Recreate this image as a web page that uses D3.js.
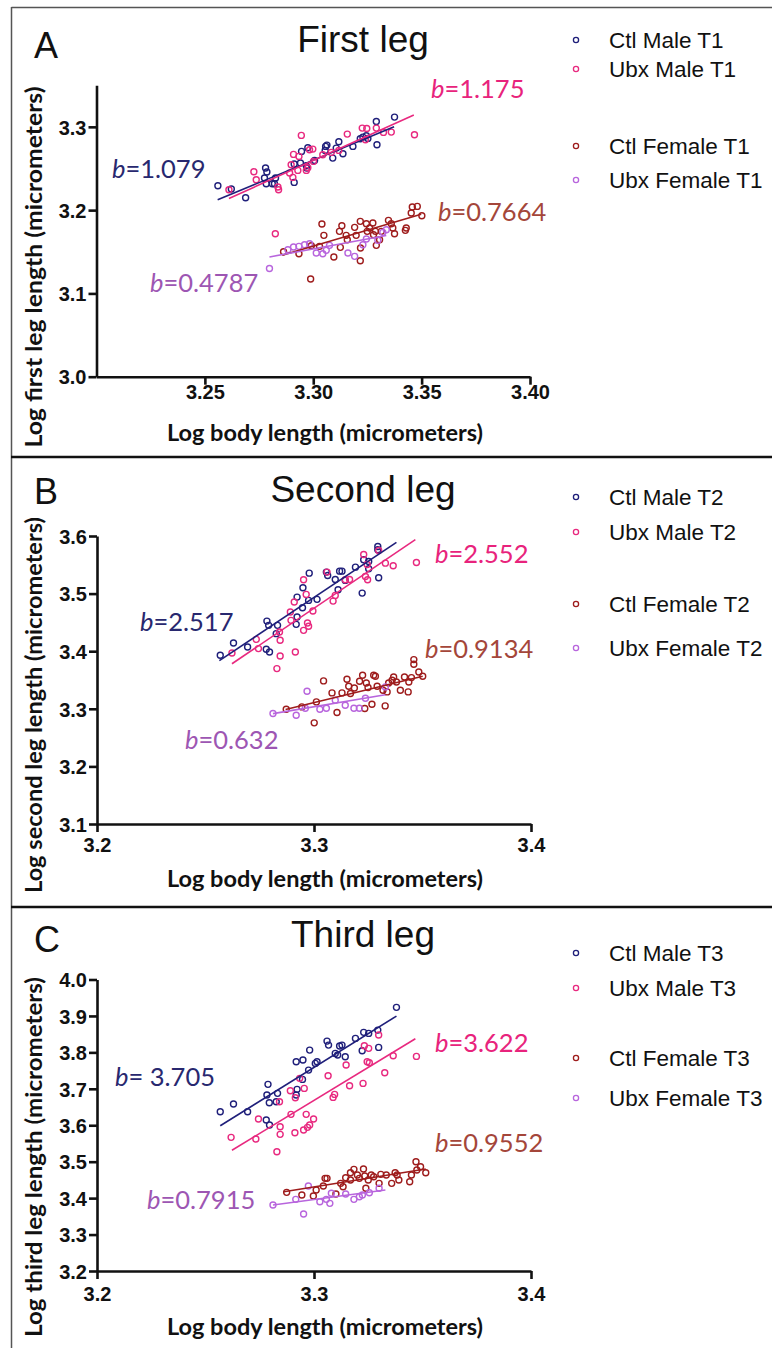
<!DOCTYPE html>
<html><head><meta charset="utf-8">
<script src="https://cdn.jsdelivr.net/npm/d3@7"></script>
<style>html,body{margin:0;padding:0;background:#fff;} svg{display:block;}</style>
</head><body>
<svg id="chart" width="772" height="1348"></svg>
<script>
// ---------------- DATA (log10 values) ----------------
const ctlMaleT1 = [[3.2560,3.2293],[3.2622,3.2253],[3.2688,3.2149],[3.2780,3.2505],[3.2786,3.2457],[3.2775,3.2385],[3.2783,3.2317],[3.2811,3.2317],[3.2826,3.2385],[3.2821,3.2317],[3.2912,3.2333],[3.2912,3.2553],[3.2941,3.2565],[3.2946,3.2705],[3.2975,3.2749],[3.2968,3.2533],[3.2971,3.2505],[3.3006,3.2597],[3.3057,3.2765],[3.3063,3.2781],[3.3055,3.2717],[3.3090,3.2625],[3.3106,3.2745],[3.3118,3.2821],[3.3137,3.2677],[3.3183,3.2765],[3.3217,3.2857],[3.3229,3.2877],[3.3245,3.2893],[3.3252,3.2861],[3.3291,3.3065],[3.3375,3.3117],[3.3294,3.2785]];
const ubxMaleT1 = [[3.2611,3.2245],[3.2726,3.2461],[3.2737,3.2365],[3.2837,3.2277],[3.2840,3.2245],[3.2909,3.2669],[3.2898,3.2545],[3.2891,3.2445],[3.2906,3.2393],[3.2929,3.2477],[3.2945,3.2897],[3.2934,3.2645],[3.2983,3.2725],[3.2968,3.2477],[3.2975,3.2509],[3.2998,3.2733],[3.3001,3.2585],[3.3044,3.2665],[3.3083,3.2693],[3.3118,3.2717],[3.3157,3.2913],[3.3226,3.2985],[3.3247,3.2981],[3.3241,3.2845],[3.3291,3.2985],[3.3324,3.2933],[3.3360,3.2937],[3.3467,3.2905],[3.2825,3.1717]];
const ctlFemaleT1 = [[3.2863,3.1501],[3.2934,3.1477],[3.2991,3.1573],[3.3029,3.1565],[3.3040,3.1833],[3.3049,3.1697],[3.3095,3.1437],[3.3125,3.1553],[3.3132,3.1813],[3.3121,3.1745],[3.3152,3.1697],[3.3157,3.1645],[3.3191,3.1793],[3.3198,3.1697],[3.3217,3.1865],[3.3218,3.1545],[3.3245,3.1837],[3.3249,3.1745],[3.3260,3.1785],[3.3275,3.1845],[3.3278,3.1705],[3.3287,3.1745],[3.3291,3.1577],[3.3306,3.1645],[3.3314,3.1745],[3.3347,3.1877],[3.3360,3.1837],[3.3367,3.1785],[3.3375,3.1717],[3.3425,3.1757],[3.3429,3.1785],[3.3452,3.1965],[3.3457,3.2037],[3.3480,3.2045],[3.3501,3.1933],[3.3217,3.1393],[3.2988,3.1173]];
const ubxFemaleT1 = [[3.2798,3.1300],[3.2883,3.1525],[3.2909,3.1557],[3.2934,3.1565],[3.2960,3.1585],[3.2983,3.1597],[3.3014,3.1485],[3.3044,3.1477],[3.3060,3.1517],[3.3075,3.1577],[3.3160,3.1485],[3.3191,3.1445],[3.3229,3.1585],[3.3245,3.1653],[3.3298,3.1637],[3.3321,3.1733],[3.3337,3.1765]];

const ctlMaleT2 = [[3.2568,3.3929],[3.2629,3.4142],[3.2694,3.4073],[3.2780,3.4033],[3.2795,3.3986],[3.2783,3.4523],[3.2791,3.4449],[3.2826,3.4305],[3.2832,3.4449],[3.2918,3.4466],[3.2922,3.4593],[3.2922,3.4939],[3.2949,3.5102],[3.2947,3.4755],[3.2978,3.5355],[3.2975,3.4882],[3.3014,3.4900],[3.3057,3.5373],[3.3063,3.5315],[3.3098,3.5246],[3.3111,3.5067],[3.3118,3.5390],[3.3129,3.5390],[3.3144,3.5229],[3.3191,3.5459],[3.3222,3.5009],[3.3229,3.5588],[3.3252,3.5432],[3.3252,3.5558],[3.3294,3.5818],[3.3298,3.5276],[3.3294,3.5761]];
const ubxMaleT2 = [[3.2622,3.3969],[3.2734,3.4206],[3.2744,3.4045],[3.2829,3.3698],[3.2844,3.3917],[3.2844,3.4189],[3.2841,3.4333],[3.2891,3.4680],[3.2894,3.4536],[3.2909,3.4853],[3.2914,3.3986],[3.2952,3.4362],[3.2952,3.5241],[3.2964,3.4986],[3.2970,3.4489],[3.2975,3.4432],[3.2995,3.4697],[3.3060,3.5373],[3.3088,3.4870],[3.3098,3.4969],[3.3144,3.5241],[3.3164,3.5246],[3.3229,3.5679],[3.3237,3.5298],[3.3247,3.5241],[3.3245,3.5506],[3.3298,3.5749],[3.3329,3.5529],[3.3365,3.5483],[3.3472,3.5541]];
const ctlFemaleT2 = [[3.2872,3.2993],[3.2944,3.3033],[3.3001,3.2756],[3.3011,3.3120],[3.3044,3.3484],[3.3083,3.3276],[3.3106,3.2936],[3.3129,3.3276],[3.3152,3.3513],[3.3160,3.3392],[3.3168,3.3265],[3.3186,3.3362],[3.3210,3.3478],[3.3224,3.3582],[3.3234,3.3005],[3.3241,3.3449],[3.3249,3.3369],[3.3267,3.3080],[3.3275,3.3582],[3.3283,3.3565],[3.3291,3.3392],[3.3318,3.3322],[3.3328,3.3050],[3.3337,3.3293],[3.3344,3.3449],[3.3360,3.3496],[3.3367,3.3553],[3.3380,3.3466],[3.3398,3.3322],[3.3417,3.3553],[3.3434,3.3293],[3.3437,3.3466],[3.3449,3.3542],[3.3460,3.3854],[3.3460,3.3773],[3.3483,3.3640],[3.3501,3.3565]];
const ubxFemaleT2 = [[3.2811,3.2919],[3.2918,3.2889],[3.2960,3.3010],[3.2968,3.3305],[3.3027,3.2993],[3.3057,3.3010],[3.3098,3.3149],[3.3144,3.3062],[3.3184,3.3010],[3.3209,3.3010],[3.3237,3.3184],[3.3329,3.3380]];

const ctlMaleT3 = [[3.2568,3.6371],[3.2629,3.6582],[3.2694,3.6371],[3.2780,3.6143],[3.2795,3.6006],[3.2788,3.7122],[3.2783,3.6829],[3.2794,3.6618],[3.2826,3.6645],[3.2832,3.6875],[3.2918,3.7742],[3.2949,3.7789],[3.2922,3.6985],[3.2918,3.6829],[3.2947,3.7259],[3.2975,3.7514],[3.2980,3.8063],[3.3014,3.7742],[3.3006,3.7698],[3.3060,3.8310],[3.3067,3.8200],[3.3098,3.7972],[3.3109,3.7926],[3.3118,3.8173],[3.3129,3.8200],[3.3144,3.7880],[3.3191,3.8384],[3.3222,3.8044],[3.3229,3.8549],[3.3252,3.8521],[3.3294,3.8612],[3.3298,3.8137],[3.3380,3.9235]];
const ubxMaleT3 = [[3.2618,3.5668],[3.2732,3.5621],[3.2744,3.6170],[3.2829,3.5274],[3.2844,3.5959],[3.2844,3.5750],[3.2841,3.6645],[3.2891,3.6947],[3.2894,3.6299],[3.2914,3.6754],[3.2912,3.5794],[3.2934,3.7287],[3.2952,3.5868],[3.2955,3.7012],[3.2964,3.6299],[3.2970,3.5942],[3.2980,3.6006],[3.2998,3.6170],[3.3065,3.7358],[3.3088,3.6765],[3.3095,3.6847],[3.3148,3.7652],[3.3164,3.7084],[3.3226,3.7149],[3.3232,3.8181],[3.3252,3.8110],[3.3245,3.7742],[3.3255,3.7715],[3.3298,3.8475],[3.3326,3.7441],[3.3365,3.7907],[3.3472,3.7890]];
const ctlFemaleT3 = [[3.2874,3.4159],[3.2944,3.4085],[3.2997,3.4058],[3.3010,3.4222],[3.3043,3.4332],[3.3051,3.4543],[3.3060,3.4543],[3.3101,3.4113],[3.3123,3.4406],[3.3134,3.4313],[3.3146,3.4560],[3.3168,3.4697],[3.3168,3.4497],[3.3184,3.4790],[3.3200,3.4634],[3.3209,3.4543],[3.3228,3.4798],[3.3234,3.4606],[3.3239,3.4269],[3.3250,3.4497],[3.3264,3.4634],[3.3275,3.4587],[3.3300,3.4406],[3.3308,3.4653],[3.3333,3.4634],[3.3358,3.4406],[3.3374,3.4697],[3.3383,3.4634],[3.3391,3.4497],[3.3441,3.4450],[3.3449,3.4634],[3.3470,3.4999],[3.3491,3.4861],[3.3515,3.4697],[3.3474,3.4771]];
const ubxFemaleT3 = [[3.2811,3.3811],[3.2916,3.3967],[3.2952,3.3564],[3.2974,3.4332],[3.3027,3.3901],[3.3057,3.3967],[3.3073,3.3857],[3.3080,3.4132],[3.3146,3.4113],[3.3184,3.3967],[3.3209,3.4038],[3.3255,3.4148],[3.3300,3.4269],[3.3223,3.4085]];

// allometric slopes (b) shown on the figure, and the fitted lines' x-extent and mid-height
const slopesT1 = [1.079, 1.175, 0.7664, 0.4787];
const slopesT2 = [2.517, 2.552, 0.9134, 0.632];
const slopesT3 = [3.705, 3.622, 0.9552, 0.7915];
const slopeTextT1 = ["=1.079", "=1.175", "=0.7664", "=0.4787"];
const slopeTextT2 = ["=2.517", "=2.552", "=0.9134", "=0.632"];
const slopeTextT3 = ["= 3.705", "=3.622", "=0.9552", "=0.7915"];
const fitXStartT1 = [3.2559, 3.2611, 3.2857, 3.2798], fitXEndT1 = [3.3373, 3.3464, 3.3498, 3.3337], fitYMidT1 = [3.2563, 3.2641, 3.1705, 3.1567];
const fitXStartT2 = [3.2564, 3.2622, 3.2869, 3.2811], fitXEndT2 = [3.3380, 3.3467, 3.3501, 3.3329], fitYMidT2 = [3.4862, 3.4860, 3.3277, 3.3080];
const fitXStartT3 = [3.2568, 3.2622, 3.2861, 3.2811], fitXEndT3 = [3.3380, 3.3467, 3.3515, 3.3329], fitYMidT3 = [3.7492, 3.6843, 3.4488, 3.4016];

const legendT1 = ["Ctl Male T1", "Ubx Male T1", "Ctl Female T1", "Ubx Female T1"];
const legendT2 = ["Ctl Male T2", "Ubx Male T2", "Ctl Female T2", "Ubx Female T2"];
const legendT3 = ["Ctl Male T3", "Ubx Male T3", "Ctl Female T3", "Ubx Female T3"];

const xTicksA = [3.25, 3.30, 3.35, 3.40], yTicksA = [3.0, 3.1, 3.2, 3.3];
const xTicksB = [3.2, 3.3, 3.4], yTicksB = [3.1, 3.2, 3.3, 3.4, 3.5, 3.6];
const xTicksC = [3.2, 3.3, 3.4], yTicksC = [3.2, 3.3, 3.4, 3.5, 3.6, 3.7, 3.8, 3.9, 4.0];

// ---------------- STYLE / LAYOUT ----------------
const markColors = ["#1f1f7a", "#e8297f", "#9e1c1c", "#b865dd"];
const textColors = ["#28286f", "#e8237c", "#a4463a", "#9d56b3"];

const panels = [
  {letter:"A", title:"First leg", legend:legendT1,
   series:[ctlMaleT1, ubxMaleT1, ctlFemaleT1, ubxFemaleT1],
   slopes:slopesT1, slopeText:slopeTextT1, fx0:fitXStartT1, fx1:fitXEndT1, fym:fitYMidT1,
   xTicks:xTicksA, yTicks:yTicksA, xFmt:".2f", xDomain:[3.2,3.4], yDomain:[3.0,3.35],
   yTitle:"Log first leg length (micrometers)",
   L:{xr:[96.5,530], yr:[376.7,85.2], letterY:58, titleY:52, legY:[40,69,146,180], xLabDy:22,
      yTitleC:267, yTitleLen:361, xTitleY:441, lab:[[112,178],[431,98],[438,221],[150,292]]}},
  {letter:"B", title:"Second leg", legend:legendT2,
   series:[ctlMaleT2, ubxMaleT2, ctlFemaleT2, ubxFemaleT2],
   slopes:slopesT2, slopeText:slopeTextT2, fx0:fitXStartT2, fx1:fitXEndT2, fym:fitYMidT2,
   xTicks:xTicksB, yTicks:yTicksB, xFmt:".1f", xDomain:[3.2,3.4], yDomain:[3.1,3.6],
   yTitle:"Log second leg length (micrometers)",
   L:{xr:[97,531], yr:[824,536], letterY:504, titleY:502, legY:[497,532,604,648], xLabDy:28,
      yTitleC:705, yTitleLen:376, xTitleY:887, lab:[[140,631],[435,563],[425,658],[185,749]]}},
  {letter:"C", title:"Third leg", legend:legendT3,
   series:[ctlMaleT3, ubxMaleT3, ctlFemaleT3, ubxFemaleT3],
   slopes:slopesT3, slopeText:slopeTextT3, fx0:fitXStartT3, fx1:fitXEndT3, fym:fitYMidT3,
   xTicks:xTicksC, yTicks:yTicksC, xFmt:".1f", xDomain:[3.2,3.4], yDomain:[3.2,4.0],
   yTitle:"Log third leg length (micrometers)",
   L:{xr:[97,531], yr:[1271,979.5], letterY:952, titleY:947, legY:[953,988,1058,1098], xLabDy:30,
      yTitleC:1157, yTitleLen:360, xTitleY:1335, lab:[[115,1086],[435,1052],[435,1152],[147,1209]]}}
];

const svg = d3.select("#chart");
svg.append("rect").attr("width",772).attr("height",1348).attr("fill","#fff");

// frame
svg.append("line").attr("x1",11.5).attr("x2",772).attr("y1",7.5).attr("y2",7.5).attr("stroke","#555").attr("stroke-width",1.5);
svg.append("line").attr("x1",11.5).attr("x2",11.5).attr("y1",7).attr("y2",1348).attr("stroke","#555").attr("stroke-width",1.5);
[457, 907].forEach(y => svg.append("line").attr("x1",11).attr("x2",772).attr("y1",y).attr("y2",y).attr("stroke","#111").attr("stroke-width",2.5));

const AX_FONT = "'Liberation Sans', Arial, sans-serif";
const TITLE_FONT = "Lato, 'Open Sans', sans-serif";

panels.forEach(p => {
  const L = p.L;
  const g = svg.append("g");
  const x = d3.scaleLinear().domain(p.xDomain).range(L.xr);
  const y = d3.scaleLinear().domain(p.yDomain).range(L.yr);

  // letter and title
  g.append("text").attr("x",34).attr("y",L.letterY).attr("font-family",AX_FONT).attr("font-size",36).attr("fill","#111").text(p.letter);
  g.append("text").attr("x",363).attr("y",L.titleY).attr("text-anchor","middle").attr("font-family",AX_FONT).attr("font-size",37).attr("fill","#111").text(p.title);

  // legend
  p.legend.forEach((name,i) => {
    g.append("circle").attr("cx",576).attr("cy",L.legY[i]).attr("r",2.6).attr("fill","none").attr("stroke",markColors[i]).attr("stroke-width",1.3);
    g.append("text").attr("x",609).attr("y",L.legY[i]+8).attr("font-family",AX_FONT).attr("font-size",22.5).attr("fill","#111").text(name);
  });

  // axes
  const xa = g.append("g").attr("transform",`translate(0,${L.yr[0]})`)
    .call(d3.axisBottom(x).tickValues(p.xTicks).tickFormat(d3.format(p.xFmt)).tickSize(8).tickSizeOuter(0));
  const ya = g.append("g").attr("transform",`translate(${L.xr[0]},0)`)
    .call(d3.axisLeft(y).tickValues(p.yTicks).tickFormat(d3.format(".1f")).tickSize(8).tickSizeOuter(0));
  [xa, ya].forEach(a => {
    a.select(".domain").attr("stroke","#111").attr("stroke-width",2.6);
    a.selectAll(".tick line").attr("stroke","#111").attr("stroke-width",2.6);
    a.selectAll(".tick text").attr("font-family",AX_FONT).attr("font-weight","bold").attr("font-size",20).attr("fill","#111");
  });
  xa.selectAll(".tick text").attr("y",L.xLabDy).attr("dy",0);
  ya.selectAll(".tick text").attr("x",-10).attr("dy","0.36em");

  // axis titles
  g.append("text").attr("x",325).attr("y",L.xTitleY).attr("text-anchor","middle")
    .attr("font-family",TITLE_FONT).attr("font-weight","bold").attr("font-size",23).attr("fill","#111")
    .attr("textLength",316).attr("lengthAdjust","spacingAndGlyphs").text("Log body length (micrometers)");
  g.append("text").attr("transform",`translate(42,${L.yTitleC}) rotate(-90)`).attr("text-anchor","middle")
    .attr("font-family",TITLE_FONT).attr("font-weight","bold").attr("font-size",23).attr("fill","#111")
    .attr("textLength",L.yTitleLen).attr("lengthAdjust","spacingAndGlyphs").text(p.yTitle);

  // points
  p.series.forEach((s,i) => {
    g.append("g").selectAll("circle").data(s).join("circle")
      .attr("cx",d=>x(d[0])).attr("cy",d=>y(d[1])).attr("r",3)
      .attr("fill","none").attr("stroke",markColors[i]).attr("stroke-width",1.4);
  });

  // fitted lines (slope b, through the mid-point)
  p.slopes.forEach((b,i) => {
    const xm = (p.fx0[i] + p.fx1[i]) / 2;
    const pts = [p.fx0[i], p.fx1[i]].map(xv => [xv, p.fym[i] + b * (xv - xm)]);
    g.append("path").datum(pts).attr("d", d3.line().x(d=>x(d[0])).y(d=>y(d[1])))
      .attr("fill","none").attr("stroke",markColors[i]).attr("stroke-width",1.6);
  });

  // slope labels
  p.slopeText.forEach((t,i) => {
    const tx = g.append("text").attr("x",L.lab[i][0]).attr("y",L.lab[i][1])
      .attr("font-family",TITLE_FONT).attr("font-size",25.5).attr("fill",textColors[i]);
    tx.append("tspan").attr("font-style","italic").text("b");
    tx.append("tspan").text(t);
  });
});
</script>
</body></html>
